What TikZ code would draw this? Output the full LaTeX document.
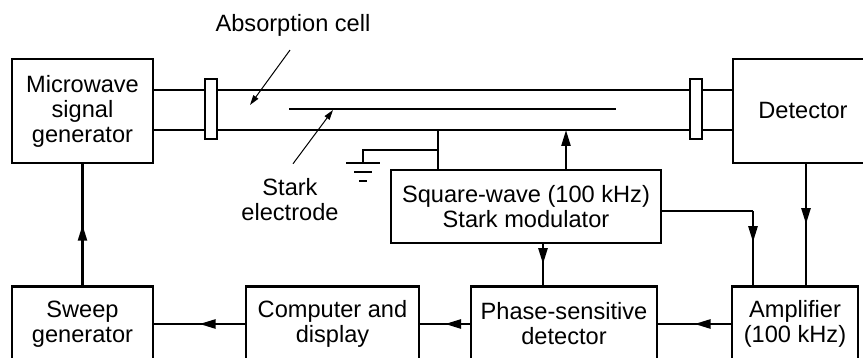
\documentclass[tikz,border=0pt]{standalone}
\usepackage{fontspec}
\setmainfont{Liberation Sans}
\usetikzlibrary{arrows.meta, positioning, calc, decorations.markings}

\tikzset{
  block/.style={draw, line width=1.2pt, align=center, inner sep=0pt},
  wire/.style={line width=1.2pt},
  flange/.style={draw, line width=1.2pt, fill=white},
  midarrow/.style={wire, decoration={markings,
      mark=at position #1 with {\arrow{Triangle[length=8pt,width=4.5pt]}}},
    postaction={decorate}},
  midarrow/.default=0.5,
  pointer/.style={-{Triangle[length=5pt,width=3pt]}, line width=0.5pt},
}

\begin{document}
\begin{tikzpicture}[x=0.5pt, y=0.5pt, font=\fontsize{11.8}{12.5}\selectfont,
    >={Triangle[length=8pt,width=4.5pt]}]
    \useasboundingbox (0,0) rectangle (863,358);

    % blocks
    \node[block, minimum width=70.5pt, minimum height=52pt] (mw) at (82.5,247) {Microwave\\signal\\generator};
    \node[block, minimum width=70pt, minimum height=52pt] (det) at (803,247) {Detector};
    \node[block, minimum width=135pt, minimum height=36.5pt] (mod) at (526,151.5) {Square-wave (100 kHz)\\Stark modulator};
    \node[block, minimum width=70.5pt, minimum height=37.5pt] (sweep) at (82.5,34) {Sweep\\generator};
    \node[block, minimum width=86.5pt, minimum height=37.5pt] (comp) at (332.5,34) {Computer and\\display};
    \node[block, minimum width=93pt, minimum height=37.5pt] (psd) at (564,34) {Phase-sensitive\\detector};
    \node[block, minimum width=63pt, minimum height=37.5pt] (amp) at (795,34) {Amplifier\\(100 kHz)};

    % absorption cell
    \coordinate (wgtopl) at (mw.east |- 0,268);
    \coordinate (wgtopr) at (det.west |- 0,268);
    \coordinate (wgbotl) at (mw.east |- 0,228);
    \coordinate (wgbotr) at (det.west |- 0,228);
    \draw[wire] (wgtopl) -- (wgtopr);
    \draw[wire] (wgbotl) -- (wgbotr);
    \coordinate (el1) at (289,249);
    \coordinate (el2) at (616,249);
    \draw[wire] (el1) -- (el2);
    \draw[flange] (205,219) rectangle (217,279);
    \draw[flange] (690,219) rectangle (702,279);

    % modulator to cell and ground
    \coordinate (tap) at (438,188);
    \coordinate (tapj) at (438,208);
    \coordinate (gnd) at (363,195);
    \draw[wire] (tap) -- (tap |- wgbotl);
    \draw[wire] (tapj) -| (gnd);
    \draw[line width=1.3pt] ($(gnd)+(-17,0)$) -- ($(gnd)+(17,0)$)
        ($(gnd)+(-9,-9)$) -- ($(gnd)+(9,-9)$)
        ($(gnd)+(-4,-18)$) -- ($(gnd)+(4,-18)$);
    \coordinate (modup) at (566,188);
    \draw[wire, ->] (modup) -- (modup |- wgbotl);

    % signal path
    \coordinate (modr) at (mod.east |- 0,147);
    \coordinate (ampin) at (753,147);
    \draw[wire] (modr) -- (ampin);
    \draw[midarrow=0.42] (ampin) -- (ampin |- amp.north);
    \coordinate (detout) at (806,195);
    \draw[midarrow] (detout) -- (detout |- amp.north);
    \coordinate (modref) at (543,115);
    \draw[midarrow] (modref) -- (modref |- psd.north);
    \draw[midarrow] (amp.west) -- (psd.east);
    \draw[midarrow] (psd.west) -- (comp.east);
    \draw[midarrow] (comp.west) -- (sweep.east);
    \draw[midarrow] (sweep.north) -- (mw.south);

    % labels
    \node (abs) at (293,333) {Absorption cell};
    \coordinate (abstip) at (250,253);
    \draw[pointer] ($(abs.south)+(-3,-7)$) -- (abstip);
    \node[align=center] (stark) at (290,158) {Stark\\electrode};
    \coordinate (starktip) at (333,248);
    \draw[pointer] ($(stark.north)+(3,8)$) -- (starktip);
\end{tikzpicture}
\end{document}
